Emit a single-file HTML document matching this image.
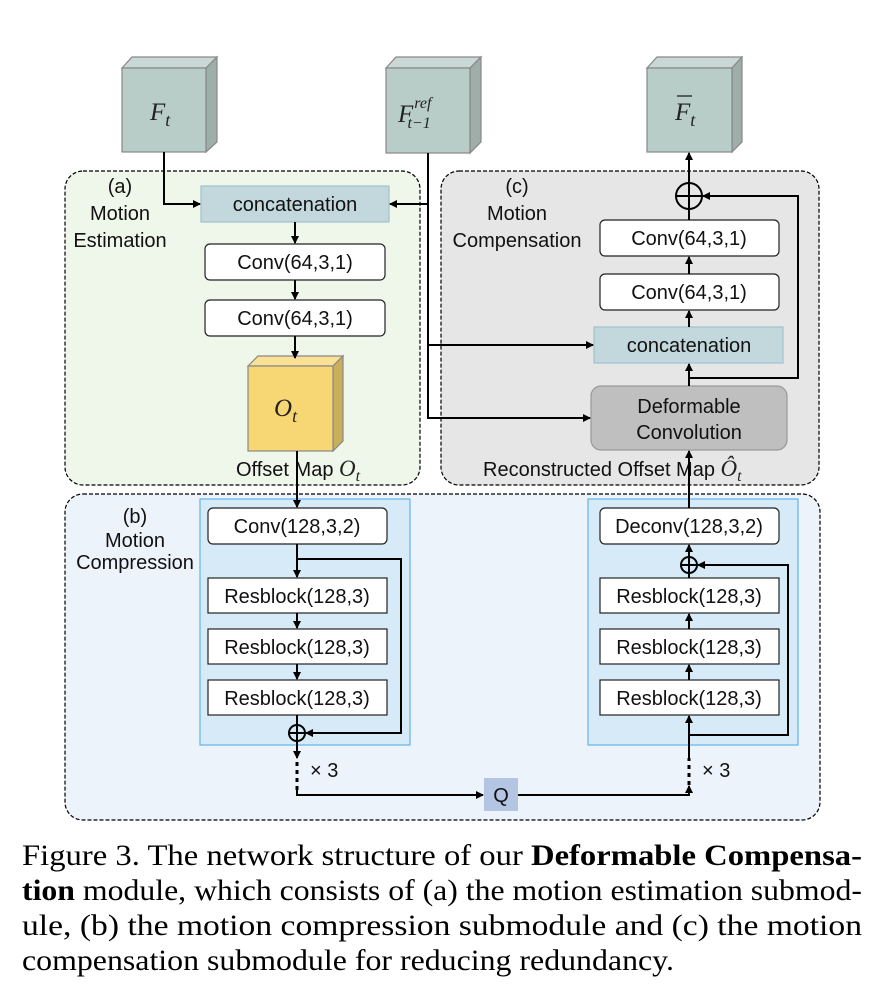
<!DOCTYPE html>
<html><head><meta charset="utf-8"><style>
html,body{margin:0;padding:0;background:#fff;}
svg{display:block;}
.s{font-family:"Liberation Sans",sans-serif;font-size:20px;fill:#111;}
.b{font-family:"Liberation Sans",sans-serif;font-size:20px;fill:#111;}
.m{font-family:"Liberation Serif",serif;font-style:italic;fill:#222;}
.c{font-family:"Liberation Serif",serif;font-size:30px;fill:#000;}
</style></head><body>
<svg width="884" height="996" viewBox="0 0 884 996" xmlns="http://www.w3.org/2000/svg">
<defs>
<marker id="a" markerWidth="8" markerHeight="8" refX="7" refY="4" orient="auto" markerUnits="userSpaceOnUse">
<path d="M0,0 L8,4 L0,8 z" fill="#000"/></marker>
</defs>
<rect x="65" y="171" width="355" height="314" rx="18" fill="#eff6ea" stroke="#000" stroke-dasharray="4,2" stroke-width="1.2"/>
<rect x="441" y="171" width="378" height="314" rx="18" fill="#e6e6e6" stroke="#000" stroke-dasharray="4,2" stroke-width="1.2"/>
<rect x="65" y="494" width="755" height="326" rx="18" fill="#edf3fa" stroke="#000" stroke-dasharray="4,2" stroke-width="1.2"/>

<g stroke="#888" stroke-width="1.2">
<polygon points="122,68 132,57 217,57 206,68" fill="#c9d8d4"/>
<polygon points="206,68 217,57 217,142 206,152" fill="#9eaea9"/>
<rect x="122" y="68" width="84" height="84" fill="#b8ccc8"/>
<polygon points="386,68 396,57 481,57 470,68" fill="#c9d8d4"/>
<polygon points="470,68 481,57 481,142 470,153" fill="#9eaea9"/>
<rect x="386" y="68" width="84" height="85" fill="#b8ccc8"/>
<polygon points="647,68 657,57 742,57 732,68" fill="#c9d8d4"/>
<polygon points="732,68 742,57 742,142 732,152" fill="#9eaea9"/>
<rect x="647" y="68" width="85" height="84" fill="#b8ccc8"/>
<polygon points="248,366 258,356 343,356 333,366" fill="#fae196"/>
<polygon points="333,366 343,356 343,441 333,451" fill="#c9ae5b"/>
<rect x="248" y="366" width="85" height="85" fill="#f7d674"/>
</g>
<text class="m" x="150" y="120" font-size="25">F<tspan font-size="18" dy="6">t</tspan></text>
<text class="m" x="398" y="122" font-size="25">F<tspan font-size="16" dx="1" dy="-14">ref</tspan><tspan font-size="16" dx="-24" dy="20">t−1</tspan></text>
<text class="m" x="675" y="120" font-size="25">F<tspan font-size="18" dy="6">t</tspan></text>
<line x1="677" y1="96" x2="692" y2="96" stroke="#222" stroke-width="1.3"/>
<text class="m" x="274" y="416" font-size="25">O<tspan font-size="18" dy="6">t</tspan></text>

<text class="s" x="120" y="193" text-anchor="middle">(a)</text>
<text class="s" x="120" y="220" text-anchor="middle">Motion</text>
<text class="s" x="120" y="247" text-anchor="middle">Estimation</text>
<rect x="201" y="186" width="188" height="36" fill="#c3d8dc" stroke="#9fc3cf" stroke-width="1.2"/>
<text class="b" x="295" y="211" text-anchor="middle">concatenation</text>
<rect x="205" y="244" width="180" height="36" rx="5" fill="#fff" stroke="#222" stroke-width="1.2"/>
<text class="b" x="295" y="269" text-anchor="middle">Conv(64,3,1)</text>
<rect x="205" y="300" width="180" height="36" rx="5" fill="#fff" stroke="#222" stroke-width="1.2"/>
<text class="b" x="295" y="325" text-anchor="middle">Conv(64,3,1)</text>
<text class="s" x="236" y="476" font-size="19">Offset Map <tspan class="m" font-size="23">O</tspan><tspan class="m" font-size="16" dy="5">t</tspan></text>

<text class="s" x="517" y="193" text-anchor="middle">(c)</text>
<text class="s" x="517" y="220" text-anchor="middle">Motion</text>
<text class="s" x="517" y="247" text-anchor="middle">Compensation</text>
<rect x="600" y="220" width="179" height="36" rx="5" fill="#fff" stroke="#222" stroke-width="1.2"/>
<text class="b" x="689" y="245" text-anchor="middle">Conv(64,3,1)</text>
<rect x="600" y="274" width="179" height="36" rx="5" fill="#fff" stroke="#222" stroke-width="1.2"/>
<text class="b" x="689" y="299" text-anchor="middle">Conv(64,3,1)</text>
<rect x="594" y="327" width="189" height="36" fill="#c3d8dc" stroke="#9fc3cf" stroke-width="1.2"/>
<text class="b" x="689" y="352" text-anchor="middle">concatenation</text>
<rect x="591" y="386" width="196" height="64" rx="10" fill="#bfbfbf" stroke="#999" stroke-width="1.2"/>
<text class="b" x="689" y="413" text-anchor="middle" fill="#333">Deformable</text>
<text class="b" x="689" y="439" text-anchor="middle" fill="#333">Convolution</text>
<text class="s" x="483" y="476" font-size="19">Reconstructed Offset Map <tspan class="m" font-size="23">Ô</tspan><tspan class="m" font-size="16" dy="5">t</tspan></text>
<circle cx="689" cy="196" r="13" fill="none" stroke="#000" stroke-width="2"/>
<line x1="676" y1="196" x2="702" y2="196" stroke="#000" stroke-width="2"/>
<line x1="689" y1="183" x2="689" y2="209" stroke="#000" stroke-width="2"/>

<text class="s" x="135" y="523" text-anchor="middle">(b)</text>
<text class="s" x="135" y="547" text-anchor="middle">Motion</text>
<text class="s" x="135" y="569" text-anchor="middle">Compression</text>
<rect x="200" y="499" width="210" height="246" fill="#d6eaf7" stroke="#62b4e8" stroke-width="1.2"/>
<rect x="588" y="499" width="210" height="246" fill="#d6eaf7" stroke="#62b4e8" stroke-width="1.2"/>
<g stroke="#222" stroke-width="1.2">
<rect x="208" y="508" width="179" height="36" rx="5" fill="#fff"/>
<rect x="208" y="578" width="179" height="35" fill="#fff"/>
<rect x="208" y="629" width="179" height="35" fill="#fff"/>
<rect x="208" y="680" width="179" height="35" fill="#fff"/>
<rect x="600" y="508" width="179" height="36" rx="5" fill="#fff"/>
<rect x="600" y="578" width="179" height="35" fill="#fff"/>
<rect x="600" y="629" width="179" height="35" fill="#fff"/>
<rect x="600" y="680" width="179" height="35" fill="#fff"/>
</g>
<text class="b" x="297" y="533" text-anchor="middle">Conv(128,3,2)</text>
<text class="b" x="297" y="603" text-anchor="middle">Resblock(128,3)</text>
<text class="b" x="297" y="654" text-anchor="middle">Resblock(128,3)</text>
<text class="b" x="297" y="705" text-anchor="middle">Resblock(128,3)</text>
<text class="b" x="689" y="533" text-anchor="middle">Deconv(128,3,2)</text>
<text class="b" x="689" y="603" text-anchor="middle">Resblock(128,3)</text>
<text class="b" x="689" y="654" text-anchor="middle">Resblock(128,3)</text>
<text class="b" x="689" y="705" text-anchor="middle">Resblock(128,3)</text>
<g fill="none" stroke="#000" stroke-width="2">
<circle cx="297" cy="733" r="8"/><line x1="289" y1="733" x2="305" y2="733"/><line x1="297" y1="725" x2="297" y2="741"/>
<circle cx="689" cy="565" r="8"/><line x1="681" y1="565" x2="697" y2="565"/><line x1="689" y1="557" x2="689" y2="573"/>
</g>
<rect x="484" y="778" width="34" height="33" fill="#b4c5e4"/>
<text class="s" x="501" y="802" text-anchor="middle">Q</text>
<text class="s" x="310" y="777">× 3</text>
<text class="s" x="702" y="777">× 3</text>

<g fill="none" stroke="#000" stroke-width="2">
<polyline points="164,152 164,204 200,204" marker-end="url(#a)"/>
<polyline points="428,153 428,418 590,418" marker-end="url(#a)"/>
<line x1="428" y1="204" x2="390" y2="204" marker-end="url(#a)"/>
<line x1="428" y1="345" x2="593" y2="345" marker-end="url(#a)"/>
<line x1="295" y1="222" x2="295" y2="243" marker-end="url(#a)"/>
<line x1="295" y1="280" x2="295" y2="299" marker-end="url(#a)"/>
<line x1="295" y1="336" x2="295" y2="358" marker-end="url(#a)"/>
<line x1="297" y1="451" x2="297" y2="507" marker-end="url(#a)"/>
<line x1="297" y1="544" x2="297" y2="577" marker-end="url(#a)"/>
<line x1="297" y1="613" x2="297" y2="628" marker-end="url(#a)"/>
<line x1="297" y1="664" x2="297" y2="679" marker-end="url(#a)"/>
<line x1="297" y1="715" x2="297" y2="725"/>
<polyline points="297,559 401,559 401,733 306,733" marker-end="url(#a)"/>
<line x1="297" y1="741" x2="297" y2="758" marker-end="url(#a)"/>
<line x1="297" y1="762" x2="297" y2="790" stroke-dasharray="4,4" stroke-width="3"/>
<polyline points="297,790 297,795 483,795" marker-end="url(#a)"/>
<polyline points="518,795 689,795 689,786" marker-end="url(#a)"/>
<line x1="689" y1="785" x2="689" y2="758" stroke-dasharray="4,4" stroke-width="3"/>
<line x1="689" y1="758" x2="689" y2="716" marker-end="url(#a)"/>
<polyline points="689,735 788,735 788,565 698,565" marker-end="url(#a)"/>
<line x1="689" y1="680" x2="689" y2="665" marker-end="url(#a)"/>
<line x1="689" y1="629" x2="689" y2="614" marker-end="url(#a)"/>
<line x1="689" y1="578" x2="689" y2="574"/>
<line x1="689" y1="557" x2="689" y2="545" marker-end="url(#a)"/>
<line x1="689" y1="508" x2="689" y2="451" marker-end="url(#a)"/>
<line x1="689" y1="386" x2="689" y2="364" marker-end="url(#a)"/>
<line x1="689" y1="327" x2="689" y2="311" marker-end="url(#a)"/>
<line x1="689" y1="274" x2="689" y2="257" marker-end="url(#a)"/>
<line x1="689" y1="220" x2="689" y2="209"/>
<polyline points="689,378 798,378 798,196 703,196" marker-end="url(#a)"/>
<line x1="689" y1="183" x2="689" y2="153" marker-end="url(#a)"/>
</g>

<text class="c" x="22" y="865" textLength="840" lengthAdjust="spacingAndGlyphs">Figure 3. The network structure of our <tspan font-weight="bold">Deformable Compensa-</tspan></text>
<text class="c" x="22" y="900" textLength="840" lengthAdjust="spacingAndGlyphs"><tspan font-weight="bold">tion</tspan> module, which consists of (a) the motion estimation submod-</text>
<text class="c" x="22" y="935" textLength="840" lengthAdjust="spacingAndGlyphs">ule, (b) the motion compression submodule and (c) the motion</text>
<text class="c" x="22" y="970" textLength="652" lengthAdjust="spacingAndGlyphs">compensation submodule for reducing redundancy.</text>
</svg>
</body></html>
